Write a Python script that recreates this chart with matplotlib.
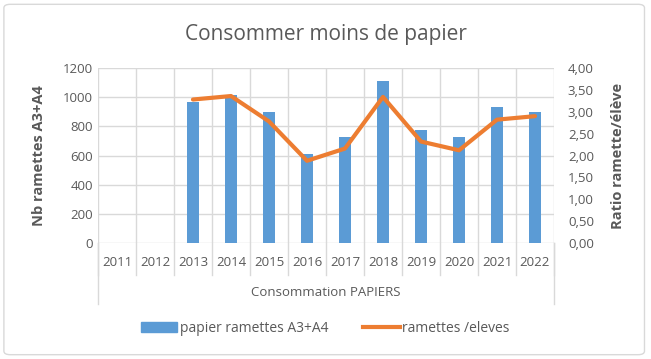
import matplotlib.pyplot as plt
from matplotlib.patches import FancyBboxPatch, Patch
from matplotlib.lines import Line2D
import numpy as np

# === DATA ===
years = ["2011", "2012", "2013", "2014", "2015", "2016",
         "2017", "2018", "2019", "2020", "2021", "2022"]
ramettes = [np.nan, np.nan, 965, 1015, 900, 612, 725, 1110, 775, 725, 930, 900]
ratio = [np.nan, np.nan, 3.28, 3.36, 2.78, 1.88, 2.16, 3.34, 2.32, 2.12, 2.82, 2.90]

BLUE = "#5B9BD5"
ORANGE = "#ED7D31"
TXT = "#595959"
GRID = "#D9D9D9"

plt.rcParams['font.family'] = ['Open Sans', 'DejaVu Sans']

fig = plt.figure(figsize=(6.51, 3.59), dpi=100)
fig.patches.append(FancyBboxPatch((0.006, 0.012), 0.984, 0.976,
                                  boxstyle="round,pad=0,rounding_size=0.01",
                                  transform=fig.transFigure, fill=False,
                                  edgecolor=GRID, linewidth=1))

ax = fig.add_axes([0.1505, 0.323, 0.7005, 0.4875])
x = np.arange(len(years))
ax.bar(x, ramettes, width=0.33, color=BLUE, zorder=3)
ax.set_xlim(-0.5, len(years) - 0.5)
ax.set_ylim(0, 1200)
ax.set_yticks(range(0, 1201, 200))
ax.yaxis.grid(True, color=GRID, linewidth=1, zorder=0)
for b in np.arange(-0.5, len(years), 1.0):
    ax.axvline(b, color=GRID, linewidth=1, zorder=0)
    ax.plot([b, b], [0, -0.18], transform=ax.get_xaxis_transform(),
            color=GRID, linewidth=1, clip_on=False)
for b in [-0.5, len(years) - 0.5]:
    ax.plot([b, b], [0, -0.35], transform=ax.get_xaxis_transform(),
            color=GRID, linewidth=1, clip_on=False)

ax.set_xticks(x)
ax.set_xticklabels(years)
for s in ax.spines.values():
    s.set_visible(False)
ax.tick_params(length=0, colors=TXT, labelsize=9.5)
ax.tick_params(axis='x', pad=9)
ax.set_ylabel("Nb ramettes A3+A4", color=TXT, fontsize=10.5, fontweight='bold', labelpad=12)
ax.text(0.5, -0.285, "Consommation PAPIERS", transform=ax.transAxes,
        ha='center', va='center', color=TXT, fontsize=9.5)

ax2 = ax.twinx()
ax2.plot(x, ratio, color=ORANGE, linewidth=3, solid_capstyle='round', zorder=4)
ax2.set_ylim(0, 4)
ax2.set_yticks(np.arange(0, 4.01, 0.5))
ax2.set_yticklabels([f"{v:.2f}".replace(".", ",") for v in np.arange(0, 4.01, 0.5)])
for s in ax2.spines.values():
    s.set_visible(False)
ax2.tick_params(length=0, colors=TXT, labelsize=9.5, pad=10)
ax2.set_ylabel("Ratio ramette/élève", color=TXT, fontsize=10.5, fontweight='bold', labelpad=12)

fig.text(0.5, 0.905, "Consommer moins de papier", ha='center', va='center',
         color=TXT, fontsize=15)

handles = [Patch(color=BLUE), Line2D([0], [0], color=ORANGE, linewidth=3)]
fig.legend(handles, ["papier ramettes A3+A4", "ramettes /eleves"],
           loc='center', bbox_to_anchor=(0.5, 0.085), ncol=2, frameon=False,
           fontsize=10, labelcolor=TXT, handlelength=2.6, handletextpad=0.2,
           columnspacing=2.5)

fig.savefig("out.png", dpi=100)
